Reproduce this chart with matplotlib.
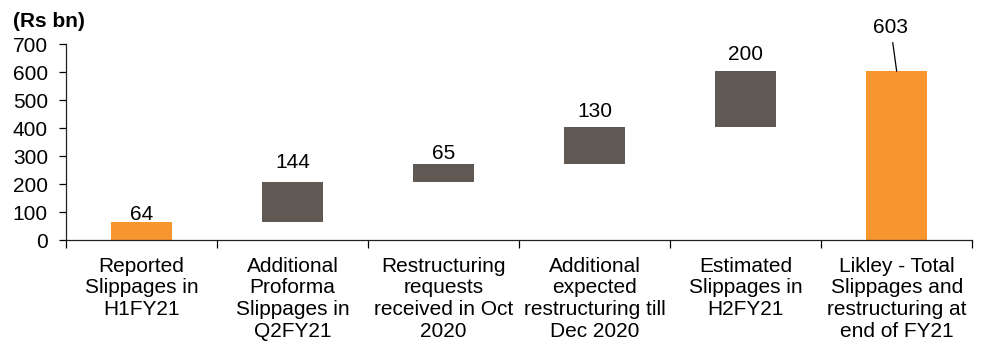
import numpy as np
import matplotlib
matplotlib.use("Agg")
import matplotlib.pyplot as plt

plt.rcParams['font.family'] = ['Liberation Sans', 'DejaVu Sans']

categories = [
    "Reported\nSlippages in\nH1FY21",
    "Additional\nProforma\nSlippages in\nQ2FY21",
    "Restructuring\nrequests\nreceived in Oct\n2020",
    "Additional\nexpected\nrestructuring till\nDec 2020",
    "Estimated\nSlippages in\nH2FY21",
    "Likley - Total\nSlippages and\nrestructuring at\nend of FY21",
]
increments = [64, 144, 65, 130, 200]
total = 603

orange = "#F7962F"
grey = "#605853"

steps = np.array(increments)
bottoms = np.concatenate([[0], np.cumsum(steps)[:-1]])
heights = list(steps) + [total]
bases = list(bottoms) + [0]
colors = [orange, grey, grey, grey, grey, orange]

fig = plt.figure(figsize=(9.85, 3.47), dpi=100)
ax = fig.add_axes([0.067, 0.308, 0.920, 0.565])

x = np.arange(len(categories))
ax.bar(x, heights, bottom=bases, width=0.4, color=colors)

# labels above bars (gap in points, as placed in the original)
label_pad = [1.4, 10, 3, 7.6, 8]
for i in range(len(increments)):
    ax.annotate(str(increments[i]), (x[i], bases[i] + heights[i]),
                xytext=(0, label_pad[i]), textcoords="offset points",
                ha="center", va="baseline", fontsize=15)

# total label with leader line
ax.annotate(str(total), (x[-1], total), xytext=(-4.3, 27.5),
            textcoords="offset points", ha="center", va="baseline",
            fontsize=15, annotation_clip=False,
            arrowprops=dict(arrowstyle="-", color="black", lw=0.9,
                            shrinkA=2, shrinkB=0))

ax.set_xlim(-0.5, 5.5)
ax.set_ylim(0, 700)
ax.set_yticks(range(0, 701, 100))
ax.tick_params(axis="y", labelsize=15, length=5, width=0.9, pad=8)

ax.set_xticks(x)
ax.set_xticklabels(categories, fontsize=15, linespacing=1.18)
ax.tick_params(axis="x", which="major", length=0, pad=12)
ax.set_xticks(np.arange(-0.5, 6, 1), minor=True)
ax.tick_params(axis="x", which="minor", length=6, width=0.9, direction="out")

for s in ["top", "right"]:
    ax.spines[s].set_visible(False)
for s in ["left", "bottom"]:
    ax.spines[s].set_linewidth(0.9)
    ax.spines[s].set_color("#222222")

fig.text(0.0129, 0.922, "(Rs bn)", fontsize=15, fontweight="bold", va="baseline")

fig.savefig("out.png", dpi=100)
